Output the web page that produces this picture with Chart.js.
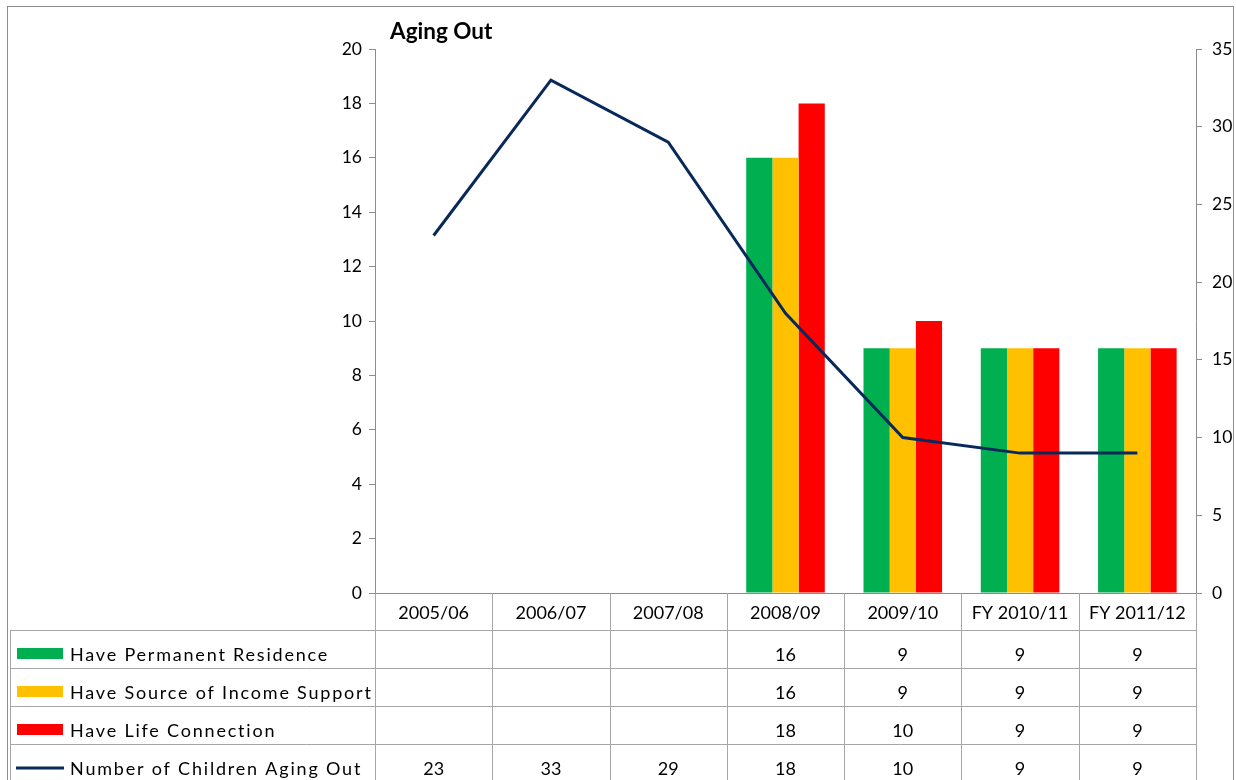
<!DOCTYPE html>
<html><head><meta charset="utf-8">
<script src="https://cdn.jsdelivr.net/npm/chart.js@4.4.0/dist/chart.umd.min.js"></script>
<style>html,body{margin:0;padding:0;background:#fff;} canvas{display:block;}</style>
</head><body>
<canvas id="c" width="1236" height="780"></canvas>
<script>
const chartTitle = 'Aging Out';
const categories = ['2005/06','2006/07','2007/08','2008/09','2009/10','FY 2010/11','FY 2011/12'];
const permanentResidence = [null,null,null,16,9,9,9];
const incomeSupport = [null,null,null,16,9,9,9];
const lifeConnection = [null,null,null,18,10,9,9];
const childrenAgingOut = [23,33,29,18,10,9,9];
const leftTicks = [0,2,4,6,8,10,12,14,16,18,20];
const rightTicks = [0,5,10,15,20,25,30,35];

const FONT = 'Lato, "Open Sans", sans-serif';
const AXIS_GRAY = '#8c8c8c';
const TABLE_GRAY = '#a6a6a6';

const seriesDefs = [
  {label:'Have Permanent Residence', data:permanentResidence, color:'#00b050', kind:'bar'},
  {label:'Have Source of Income Support', data:incomeSupport, color:'#ffc000', kind:'bar'},
  {label:'Have Life Connection', data:lifeConnection, color:'#ff0000', kind:'bar'},
  {label:'Number of Children Aging Out', data:childrenAgingOut, color:'#08295a', kind:'line'}
];

const tablePlugin = {
  id:'dataTable',
  afterDraw(chart){
    const ctx = chart.ctx;
    const xs = chart.scales.x;
    const n = categories.length;
    const left = xs.left, right = xs.right, cw = (right-left)/n;
    const axisY = chart.chartArea.bottom;
    const headerBottom = axisY + 37;
    const rowH = 38;
    const tableLeft = 10;
    const bottom = 782;
    ctx.save();
    // outer border
    ctx.strokeStyle = '#8c8c8c';
    ctx.lineWidth = 1;
    ctx.strokeRect(7.5, 6.5, 1226, 790);
    // title
    ctx.fillStyle = '#000';
    ctx.font = 'bold 22.5px ' + FONT;
    ctx.textBaseline = 'middle';
    ctx.textAlign = 'left';
    ctx.fillText(chartTitle, 390, 32);
    // table lines
    ctx.strokeStyle = TABLE_GRAY;
    ctx.lineWidth = 1;
    ctx.beginPath();
    for (let i=0;i<=n;i++){
      const x = Math.round(left + i*cw) + 0.5;
      ctx.moveTo(x, axisY); ctx.lineTo(x, bottom);
    }
    for (let r=0;r<4;r++){
      const y = headerBottom + r*rowH + 0.5;
      ctx.moveTo(tableLeft, y); ctx.lineTo(right, y);
    }
    ctx.moveTo(tableLeft+0.5, headerBottom); ctx.lineTo(tableLeft+0.5, bottom);
    ctx.stroke();
    // header labels
    ctx.fillStyle = '#000';
    ctx.font = '18px ' + FONT;
    ctx.textAlign = 'center';
    categories.forEach((c,i)=>{
      ctx.fillText(c, left + (i+0.5)*cw, axisY + 20);
    });
    // rows
    seriesDefs.forEach((s,r)=>{
      const cy = headerBottom + r*rowH + 25;
      if (s.kind==='bar'){
        ctx.fillStyle = s.color;
        ctx.fillRect(17, cy-7, 46, 11);
      } else {
        ctx.strokeStyle = s.color;
        ctx.lineWidth = 3;
        ctx.beginPath(); ctx.moveTo(16, cy-1); ctx.lineTo(64, cy-1); ctx.stroke();
      }
      ctx.fillStyle = '#000';
      ctx.textAlign = 'left';
      ctx.font = '18px ' + FONT;
      ctx.letterSpacing = '1.8px';
      ctx.fillText(s.label, 70, cy);
      ctx.letterSpacing = '0px';
      ctx.textAlign = 'center';
      s.data.forEach((v,i)=>{
        if (v!==null && v!==undefined) ctx.fillText(String(Math.round(v)), left + (i+0.5)*cw, cy);
      });
    });
    ctx.restore();
  }
};

const datasets = seriesDefs.map((s,i)=>{
  if (s.kind==='bar') return {
    type:'bar', label:s.label, data:s.data, backgroundColor:s.color, borderWidth:0,
    yAxisID:'y', categoryPercentage:0.67, barPercentage:1.0, order:2
  };
  return {
    type:'line', label:s.label, data:s.data, borderColor:s.color, borderWidth:3,
    pointRadius:0, tension:0, yAxisID:'y1', order:1
  };
});

new Chart(document.getElementById('c'), {
  data:{ labels:categories, datasets },
  plugins:[tablePlugin],
  options:{
    responsive:false, animation:false,
    layout:{ padding:{ top:49, left:0, right:0, bottom:0 } },
    plugins:{ legend:{display:false}, title:{display:false}, tooltip:{enabled:false} },
    scales:{
      x:{
        grid:{display:false},
        border:{display:true, color:AXIS_GRAY},
        ticks:{display:false},
        afterFit(s){ s.height = 187; }
      },
      y:{
        position:'left', min:0, max:20,
        afterBuildTicks(s){ s.ticks = leftTicks.map(v=>({value:v})); },
        grid:{drawOnChartArea:false, drawTicks:true, tickLength:6, color:AXIS_GRAY},
        border:{display:true, color:AXIS_GRAY},
        ticks:{padding:7, color:'#000', font:{family:FONT, size:17.5}},
        afterFit(s){ s.width = 375; }
      },
      y1:{
        position:'right', min:0, max:35,
        afterBuildTicks(s){ s.ticks = rightTicks.map(v=>({value:v})); },
        grid:{drawOnChartArea:false, drawTicks:true, tickLength:6, color:AXIS_GRAY},
        border:{display:true, color:AXIS_GRAY},
        ticks:{padding:10, color:'#000', font:{family:FONT, size:17.5}},
        afterFit(s){ s.width = 40; }
      }
    }
  }
});
</script>
</body></html>
